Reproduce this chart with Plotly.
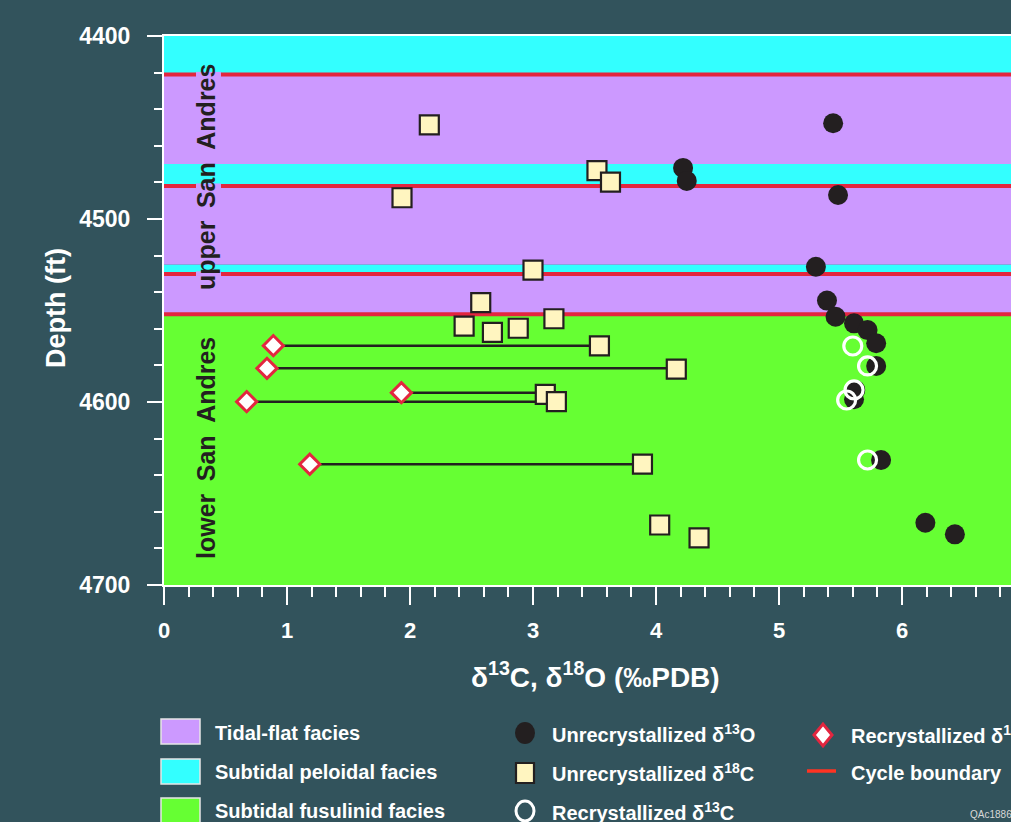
import plotly.graph_objects as go

# ---------------- data ----------------
# Unrecrystallized delta13O (black circles)
unrecr_o_x = [5.44, 4.22, 4.25, 5.48, 5.30, 5.39, 5.46, 5.61, 5.72, 5.79, 5.79, 5.62, 5.61, 5.83, 6.19, 6.43]
unrecr_o_d = [4447.7, 4472.1, 4479.2, 4486.9, 4526.1, 4544.6, 4553.4, 4557.0, 4560.7, 4567.9, 4580.3,
              4593.4, 4598.5, 4631.7, 4666.0, 4672.3]
# Unrecrystallized delta18C (squares)
unrecr_c_x = [2.157, 3.52, 3.63, 1.935, 3.00, 2.575, 2.44, 2.67, 2.88, 3.17, 3.54, 4.165, 3.10, 3.19, 3.89, 4.03, 4.35]
unrecr_c_d = [4448.6, 4473.6, 4479.9, 4488.4, 4527.9, 4545.7, 4558.5, 4561.9, 4559.7, 4554.5, 4569.3,
              4582.0, 4595.8, 4599.8, 4633.9, 4667.2, 4674.3]
# Recrystallized delta13C (open circles)
recr_c_x = [5.60, 5.72, 5.61, 5.55, 5.72]
recr_c_d = [4569.4, 4580.3, 4593.4, 4598.9, 4631.7]
# Recrystallized delta18O (diamonds)
recr_o_x = [0.889, 0.837, 1.93, 0.672, 1.185]
recr_o_d = [4569.2, 4581.6, 4594.9, 4599.8, 4634.0]
# index of the square each diamond is tied to
pair_idx = [10, 11, 12, 13, 14]

# facies bands
band_top = [4400, 4421, 4470, 4482, 4525, 4530, 4552]
band_bot = [4421, 4470, 4482, 4525, 4530, 4552, 4700]
band_facies = ["peloidal", "tidal", "peloidal", "tidal", "peloidal", "tidal", "fusulinid"]
cycle_boundaries = [4421, 4482, 4530, 4552]

x_ticks = [0, 1, 2, 3, 4, 5, 6]
y_ticks = [4400, 4500, 4600, 4700]

# ---------------- styling ----------------
BG = "#32535C"
FAC_COL = {"tidal": "#CC99FF", "peloidal": "#33FFFF", "fusulinid": "#66FF33"}
RED = "#E3263F"
FONT = "Liberation Sans, Arial, sans-serif"
W, H = 1011, 822
L, T, R, B = 164, 36, 1011, 585  # plot area pixels
UNIT = 123.0


def px(x):
    return (x - L) / (R - L)


def py(y):
    return (B - y) / (B - T)


fig = go.Figure()

# connectors
cx, cy = [], []
for i, j in enumerate(pair_idx):
    cx += [recr_o_x[i], unrecr_c_x[j], None]
    cy += [recr_o_d[i], recr_o_d[i], None]
fig.add_trace(go.Scatter(x=cx, y=cy, mode="lines", line=dict(color="#231F20", width=2.5),
                         hoverinfo="skip", showlegend=False))

fig.add_trace(go.Scatter(x=unrecr_c_x, y=unrecr_c_d, mode="markers", showlegend=False,
                         marker=dict(symbol="square", size=19, color="#FFF5C0",
                                     line=dict(color="#231F20", width=2.2))))
fig.add_trace(go.Scatter(x=recr_o_x, y=recr_o_d, mode="markers", showlegend=False,
                         marker=dict(symbol="diamond", size=15.5, color="white",
                                     line=dict(color=RED, width=3))))
fig.add_trace(go.Scatter(x=unrecr_o_x, y=unrecr_o_d, mode="markers", showlegend=False,
                         marker=dict(symbol="circle", size=20, color="#231F20",
                                     line=dict(width=0))))
fig.add_trace(go.Scatter(x=recr_c_x, y=recr_c_d, mode="markers", showlegend=False,
                         marker=dict(symbol="circle-open", size=18, color="white",
                                     line=dict(color="white", width=3.2))))

shapes = []
for t0, b0, f in zip(band_top, band_bot, band_facies):
    shapes.append(dict(type="rect", xref="paper", yref="y", x0=0, x1=1, y0=t0, y1=b0,
                       fillcolor=FAC_COL[f], line=dict(width=0), layer="below"))
for d in cycle_boundaries:
    shapes.append(dict(type="line", xref="paper", yref="y", x0=0, x1=1, y0=d, y1=d,
                       line=dict(color=RED, width=4), layer="below"))
# gaps in the cycle lines behind the "upper San Andres" label
for d in cycle_boundaries[:3]:
    shapes.append(dict(type="rect", xref="paper", yref="y", x0=px(196), x1=px(221),
                       y0=d - 1.4, y1=d + 1.4, fillcolor=FAC_COL["tidal"],
                       line=dict(width=0), layer="below"))

# ---------------- legend (drawn manually) ----------------
rows = [733, 772, 811]
fac_labels = ["Tidal-flat facies", "Subtidal peloidal facies", "Subtidal fusulinid facies"]
fac_keys = ["tidal", "peloidal", "fusulinid"]
sw_y = [(719, 744), (759, 784), (798, 823)]
for (y0, y1), k in zip(sw_y, fac_keys):
    shapes.append(dict(type="rect", xref="paper", yref="paper", x0=px(161), x1=px(200),
                       y0=py(y1), y1=py(y0), fillcolor=FAC_COL[k],
                       line=dict(color="#E6E6E6", width=1.5)))

# column 2 symbols
shapes.append(dict(type="circle", xref="paper", yref="paper", xsizemode="pixel", ysizemode="pixel",
                   xanchor=px(525), yanchor=py(733), x0=-10, x1=10, y0=-11, y1=11,
                   fillcolor="#231F20", line=dict(width=0)))
shapes.append(dict(type="rect", xref="paper", yref="paper", xsizemode="pixel", ysizemode="pixel",
                   xanchor=px(525), yanchor=py(773), x0=-9, x1=9, y0=-10, y1=10,
                   fillcolor="#FFF5C0", line=dict(color="#231F20", width=2.2)))
shapes.append(dict(type="circle", xref="paper", yref="paper", xsizemode="pixel", ysizemode="pixel",
                   xanchor=px(525), yanchor=py(811), x0=-9, x1=9, y0=-10, y1=10,
                   fillcolor="rgba(0,0,0,0)", line=dict(color="white", width=3)))
# column 3 symbols
shapes.append(dict(type="path", xref="paper", yref="paper", xsizemode="pixel", ysizemode="pixel",
                   xanchor=px(823), yanchor=py(735),
                   path="M -9 0 L 0 11 L 9 0 L 0 -11 Z",
                   fillcolor="white", line=dict(color=RED, width=3)))
shapes.append(dict(type="line", xref="paper", yref="paper", x0=px(807), x1=px(836),
                   y0=py(771), y1=py(771), line=dict(color="#FF3322", width=3.5)))

ann = []


def txt(x, y, s, size=20, color="white", xanchor="left", angle=0, bold=True):
    ann.append(dict(x=px(x), y=py(y), xref="paper", yref="paper", text=s, showarrow=False,
                    xanchor=xanchor, yanchor="middle", textangle=angle,
                    font=dict(family=FONT, size=size, color=color, weight="bold" if bold else "normal")))


for yy, s in zip(rows, fac_labels):
    txt(213, yy, s)
txt(550, 733, "Unrecrystallized δ<sup>13</sup>O")
txt(550, 772, "Unrecrystallized δ<sup>18</sup>C")
txt(550, 811, "Recrystallized δ<sup>13</sup>C")
txt(849, 734, "Recrystallized δ<sup>18</sup>O")
txt(849, 773, "Cycle boundary")
txt(968, 815, "QAc1886", size=10, color="#D8D8D8", bold=False)

# axis titles and unit labels
txt(56, 308, "Depth (ft)", size=27, xanchor="center", angle=-90)
txt(595, 675, "δ<sup>13</sup>C, δ<sup>18</sup>O (‰PDB)", size=28, xanchor="center")
txt(206, 177, "upper\u2002San\u2002Andres", size=25, color="#231F20", xanchor="center", angle=-90)
txt(206, 448, "lower\u2002San\u2002Andres", size=25, color="#231F20", xanchor="center", angle=-90)

fig.update_layout(
    width=W, height=H,
    margin=dict(l=L, r=W - R, t=T, b=H - B, pad=0),
    paper_bgcolor=BG, plot_bgcolor=BG,
    shapes=shapes, annotations=ann, showlegend=False,
    xaxis=dict(range=[0, (R - L) / UNIT], tickvals=x_ticks, ticks="outside", ticklen=18, tickwidth=2,
               tickcolor="white", showline=True, linecolor="white", linewidth=2, mirror=True,
               showgrid=False, zeroline=False, ticklabelstandoff=7,
               tickfont=dict(family=FONT, size=22, color="white", weight="bold"),
               minor=dict(dtick=0.2, tick0=0, ticks="outside", ticklen=10, tickwidth=1.5,
                          tickcolor="white", showgrid=False)),
    yaxis=dict(range=[4700, 4400], tickvals=y_ticks, ticks="outside", ticklen=15, tickwidth=2,
               tickcolor="white", showline=True, linecolor="white", linewidth=2, mirror=False,
               showgrid=False, zeroline=False, ticklabelstandoff=12,
               tickfont=dict(family=FONT, size=23, color="white", weight="bold"),
               minor=dict(dtick=20, tick0=4400, ticks="outside", ticklen=8, tickwidth=1.5,
                          tickcolor="white", showgrid=False)),
)

fig.write_html("out.html", config={"displayModeBar": False},
               post_script="document.body.style.margin='0';document.body.style.overflow='hidden';"
                           "document.body.style.background='" + BG + "';")
